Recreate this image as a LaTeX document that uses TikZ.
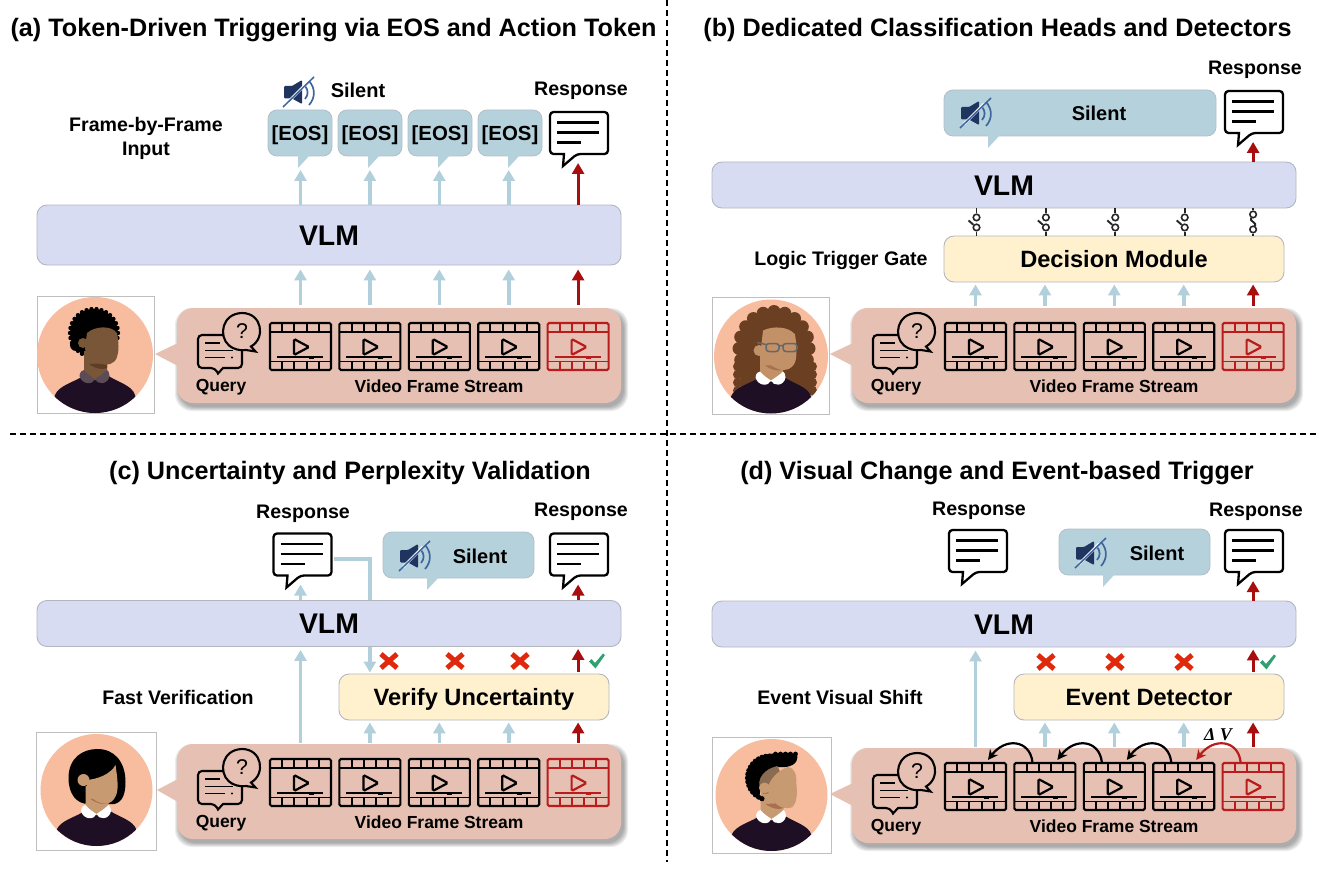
\documentclass[tikz,border=0pt]{standalone}
\usepackage{fontspec}
\setmainfont{Liberation Sans}
\newfontfamily\deltafont{Liberation Serif}
\usetikzlibrary{arrows.meta,calc}
\newdimen\pxu \pxu=0.75pt

\definecolor{vlmfill}{HTML}{D7DCF3}
\definecolor{gatefill}{HTML}{FFF1CE}
\definecolor{streamfill}{HTML}{E6C0B2}
\definecolor{tokenfill}{HTML}{B5D2DC}
\definecolor{flowblue}{HTML}{B2D0DB}
\definecolor{flowred}{HTML}{A80E0E}
\definecolor{filmred}{HTML}{B81C1C}
\definecolor{edgegray}{HTML}{B4B6BE}
\definecolor{avatarbg}{HTML}{F8BC9F}
\definecolor{bodydark}{HTML}{1E0F24}
\definecolor{crossred}{HTML}{E0280C}
\definecolor{checkgreen}{HTML}{2FA070}
\definecolor{speakerdark}{HTML}{1F3560}
\definecolor{speakerblue}{HTML}{3E659E}
\definecolor{skinbrown}{HTML}{7A5638}
\definecolor{skinbrownshade}{HTML}{5E3D25}
\definecolor{collargray}{HTML}{5C4C58}
\definecolor{hairbrown}{HTML}{6B3F22}
\definecolor{skintan}{HTML}{C29168}
\definecolor{skintanshade}{HTML}{A8704C}
\definecolor{skinlight}{HTML}{C89A72}
\definecolor{hairshaved}{HTML}{8A6C52}

\tikzset{
  panelbox/.style={draw=edgegray,line width=0.9\pxu,rounded corners=10\pxu,inner sep=0pt,align=center},
  vlmbox/.style={panelbox,fill=vlmfill,text height=15.3pt,text depth=0pt,font=\fontsize{21.3}{24}\selectfont\bfseries},
  gatebox/.style={panelbox,fill=gatefill,text height=12.7pt,text depth=0pt,font=\fontsize{17.7}{20}\selectfont\bfseries},
  tokenbox/.style={draw=edgegray!70!tokenfill,line width=0.8\pxu,fill=tokenfill,rounded corners=9\pxu,inner sep=0pt,text height=11pt,text depth=0pt,font=\fontsize{15.3}{18}\selectfont\bfseries},
  streambox/.style={fill=streamfill,rounded corners=16\pxu,inner sep=0pt,minimum width=444\pxu,minimum height=95\pxu},
  filmbox/.style={line width=2.1\pxu,rounded corners=1.5\pxu,inner sep=0pt,minimum width=61\pxu,minimum height=47\pxu},
  paneltitle/.style={inner sep=0pt,font=\fontsize{18.9}{22}\selectfont\bfseries},
  sidelabel/.style={inner sep=0pt,align=center,font=\fontsize{14.7}{18.2}\selectfont\bfseries},
  silentlabel/.style={inner sep=0pt,font=\fontsize{15}{18}\selectfont\bfseries},
  streamlabel/.style={inner sep=0pt,font=\fontsize{13.1}{16}\selectfont\bfseries},
  blueflow/.style={draw=flowblue,line width=3.6\pxu,-{Triangle[length=8.25pt,width=9pt]},shorten >=1\pxu},
  redflow/.style={draw=flowred,line width=3\pxu,-{Triangle[length=8.25pt,width=9pt]},shorten >=1\pxu},
  hopline/.style={line width=2.2\pxu,-{Stealth[length=7.5pt,width=7.5pt]}},
  contact/.style={circle,draw=black!85,fill=white,line width=1.6\pxu,minimum size=6.5\pxu,inner sep=0pt},
  switchline/.style={draw=black!85,line width=1.9\pxu},
  divider/.style={draw=black,line width=1.3\pxu,dash pattern=on 4.5pt off 3pt},
}

% Film-strip symbol centred on a named node
\newcommand{\filmframe}[4]{%
  \node[filmbox,draw=#4] (#1) at (#2,#3) {};
  \begin{scope}[shift={(#1.center)},line width=1.9\pxu,#4]
    \draw (-30.5,-14.5) -- (30.5,-14.5) (-30.5,15) -- (30.5,15);
    \foreach \tx in {-18.3,-6.1,6.1,18.3}{\draw (\tx,-23.5) -- (\tx,-14.5) (\tx,15) -- (\tx,23.5);}
    \draw[line width=2.2\pxu,rounded corners=1.5\pxu] (-6.5,-7.5) -- (8.5,0.5) -- (-6.5,8.5) -- cycle;
    \draw (-23.5,10.5) -- (22.5,10.5);
    \fill (8,9) rectangle (13,12);
  \end{scope}}

% Question-and-chat symbol, in the coordinates of the first panel
\newcommand{\queryicon}{%
  \draw[line width=2.1\pxu,rounded corners=4\pxu] (198,345) -- (198,368) -- (215,368) [sharp corners] -- (218,373.5) -- (223,368) [rounded corners=4\pxu] -- (242,368) -- (242,335) -- (198,335) -- cycle;
  \draw[line width=1.9\pxu] (205,343) -- (220,343) (205,350.5) -- (233,350.5) (205,357.5) -- (225,357.5);
  \fill (232,357.5) circle [radius=1.2];
  \filldraw[fill=streamfill,line width=2.1\pxu] (229,345.5) .. controls (218,336) and (222,313.5) .. (242,313) .. controls (262,313) and (266,338) .. (251,346.5) -- (255.5,351.5) -- (246,350) .. controls (240,351) and (233,349) .. (229,345.5) -- cycle;
}

% Query and video-frame band with its speech tail and soft shadow
\newcommand{\streamrow}[4]{%
  \begin{scope}[shift={(#2,#3)}]
    \foreach \s in {0,1,2,3,4}{\fill[black,opacity=0.075,rounded corners=17\pxu] (179-\s,312-\s) rectangle (624+\s,407+\s);}
    \fill[streamfill] (#4,354) -- (178,343) -- (178,366) -- cycle;
    \node[streambox] (#1-stream) at (399,355.5) {};
    \foreach \i/\cx in {1/300.5,2/369.9,3/439.3,4/508.7}{\filmframe{#1-f\i}{\cx}{346.5}{black}}
    \filmframe{#1-f5}{578.1}{346.5}{filmred}
    \queryicon
    \node[inner sep=0pt,font=\fontsize{16}{18}\selectfont] (#1-qmark) at (242,331) {?};
    \node[streamlabel] (#1-qlabel) at (221,387.5) {Query};
    \node[streamlabel] (#1-vlabel) at (439,386.5) {Video Frame Stream};
  \end{scope}}

% Rounded speech bubble holding a status token
\newcommand{\tokenbubble}[7]{%
  \node[tokenbox,minimum width={(#4-#2)*\pxu},minimum height={(#5-#3)*\pxu}] (#1) at ({(#2+#4)/2},{(#3+#5)/2}) {#7};
  \fill[tokenfill] (#6,#5-1) -- (#6,#5+12) -- (#6+12,#5-1) -- cycle;
  \coordinate (#1-tip) at (#6,#5+13);}

% Muted loudspeaker symbol
\newcommand{\mutespeaker}[2]{%
  \begin{scope}[shift={(#1,#2)}]
    \fill[speakerdark,rounded corners=1\pxu] (-15,-6) -- (-7,-6) -- (3,-12) -- (3,12) -- (-7,6.5) -- (-15,6.5) -- cycle;
    \draw[speakerblue,line width=1.7\pxu] (6,-6) .. controls (9.5,-2) and (9.5,3) .. (6,7) (10,-11) .. controls (16.5,-4) and (16.5,6) .. (10,13);
    \draw[white,line width=2.6\pxu] (-12,11) -- (8,-9);
    \draw[speakerblue,line width=1.5\pxu] (-16,15) -- (15,-15);
  \end{scope}}

% Response bubble around a named node
\newcommand{\responseicon}[3]{%
  \node[minimum width=58\pxu,minimum height=42\pxu,inner sep=0pt] (#1) at (#2,#3) {};
  \begin{scope}[shift={(#1.center)}]
    \draw[fill=white,line width=2.3\pxu,rounded corners=3.5\pxu] (0,-21) -- (29,-21) -- (29,21) -- (-2,21) [sharp corners] -- (-16,33) -- (-15,21) [rounded corners=3.5\pxu] -- (-29,21) -- (-29,-21) -- cycle;
    \draw[line width=2.1\pxu] (-22,-10.5) -- (20,-10.5) (-22,-0.5) -- (20,-0.5) (-22,9.5) -- (2,9.5);
  \end{scope}
  \coordinate (#1-tip) at (#2,#3+29);}

% Rejected and accepted frame markers
\newcommand{\rejectmark}[2]{\draw[crossred,line width=5\pxu] (#1-8,#2-7) -- (#1+8,#2+7) (#1-8,#2+7) -- (#1+8,#2-7);}
\newcommand{\acceptmark}[2]{\fill[checkgreen] (#1-8,#2+0.5) -- (#1-5.5,#2-2) -- (#1-2,#2+2) -- (#1+6,#2-7.5) -- (#1+8,#2-6) -- (#1-1.5,#2+7.5) -- cycle;}

% Curved hop between neighbouring frames
\newcommand{\framehop}[3]{\draw[hopline,#3] ($(#1.north)+(-12.5,0)$) .. controls ($(#1.north)+(-15,-22)$) and ($(#2.north)+(30,-25)$) .. ($(#2.north)+(12.5,-2)$);}

% Shared person figure: shoulders, neck and collar
\newcommand{\personbody}[3]{%
  \fill[bodydark] (-44,62) -- (-40,40) .. controls (-36,30) and (-20,27) .. (-10,20) -- (12,20) .. controls (22,27) and (37,30) .. (40,40) -- (44,62) -- cycle;
  \fill[#1] (-11,-4) -- (-11,20) .. controls (-5,27) and (6,27) .. (12,20) -- (12,-4) -- cycle;
  \fill[#3] (-15.5,21) .. controls (-15,17) and (-13,15) .. (-11,15) .. controls (-8,19) and (-3,22) .. (0,24) .. controls (-2,30) and (-13,30) .. (-15.5,21) -- cycle;
  \fill[#3] (14.5,21) .. controls (14,17) and (13,15) .. (12,15) .. controls (8,19) and (3,22) .. (0,24) .. controls (2,30) and (13,30) .. (14.5,21) -- cycle;
  \fill[#2] (-6,9) .. controls (1,14) and (7,15) .. (12,13) -- (12,8) -- cycle;
}
% Frame and disc behind a person figure
\newcommand{\avatardisc}[8]{%
  \node[draw=black!25,line width=0.9\pxu,fill=white,inner sep=0pt,minimum width={(#4-#2)*\pxu},minimum height={(#5-#3)*\pxu}] (#1) at ({(#2+#4)/2},{(#3+#5)/2}) {};
  \fill[avatarbg] (#6,#7) circle [radius=#8];}

\begin{document}
\begin{tikzpicture}[x=0.75pt,y=-0.75pt]
\useasboundingbox (0,0) rectangle (1327,870);
\fill[white] (0,0) rectangle (1327,870);

% Dividers between the four panels
\coordinate (divtop) at (667,0);
\coordinate (divbottom) at (667,862);
\coordinate (divleft) at (10,434);
\coordinate (divright) at (1318,434);
\draw[divider] (divtop) -- (divbottom);
\draw[divider] (divleft) -- (divright);

% ---------- Panel (a) ----------
\node[paneltitle] (a-title) at (333.5,30) {(a) Token-Driven Triggering via EOS and Action Token};
\avatardisc{a-avatar}{37}{296}{154}{413}{95}{355}{58}
\begin{scope}[shift={(95,355)}]
  \clip (0,0) circle [radius=58];
  \fill[black] (-1,-22) circle [radius=24];
  \foreach \a in {0,12,...,348}{\fill[black] ($(-1,-22)+(\a:24)$) circle [radius=2.2];}
  \fill[black] (-19,-10) circle [radius=6];
  \personbody{skinbrown}{skinbrownshade}{collargray}
  \fill[skinbrown] (-12,-12) circle [radius=5];
  \fill[skinbrown] (-8,-22) .. controls (0,-29) and (16,-30) .. (22,-22) .. controls (24,-12) and (24,-4) .. (22,2) .. controls (20,9) and (12,11) .. (6,9) .. controls (-2,8) and (-10,3) .. (-10,-8) -- cycle;
\end{scope}
\streamrow{a}{0}{0}{155}
\node[vlmbox,minimum width=584\pxu,minimum height=60\pxu] (a-vlm) at (329,235) {VLM};
\node[sidelabel] (a-input) at (146,138.5) {Frame-by-Frame\\Input};
\foreach \i/\cx in {1/268,2/338,3/408,4/478}{\tokenbubble{a-eos\i}{\cx}{110}{\cx+64}{156}{\cx+30}{[EOS]}}
\mutespeaker{299}{92}
\node[silentlabel] (a-silent) at (358,90) {Silent};
\node[sidelabel] (a-resplabel) at (581,91) {Response};
\responseicon{a-resp}{579}{133}
\foreach \i in {1,2,3,4}{%
  \draw[blueflow] ($(a-f\i.north |- a-stream.north)+(0,-3)$) -- ($(a-f\i.north |- a-vlm.south)+(0,3)$);
  \draw[blueflow] (a-f\i.north |- a-vlm.north) -- (a-f\i.north |- a-eos\i-tip);}
\draw[redflow] ($(a-f5.north |- a-stream.north)+(0,-3)$) -- ($(a-f5.north |- a-vlm.south)+(0,3)$);
\draw[redflow] (a-f5.north |- a-vlm.north) -- (a-f5.north |- a-resp-tip);

% ---------- Panel (b) ----------
\node[paneltitle] (b-title) at (997.5,30) {(b) Dedicated Classification Heads and Detectors};
\avatardisc{b-avatar}{712}{297}{829}{414}{771}{356.5}{57}
\begin{scope}[shift={(771,356.5)}]
  \clip (0,0) circle [radius=57];
  \fill[hairbrown] (3,-8) ellipse [x radius=35,y radius=37];
  \foreach \a in {0,18,...,342}{\fill[hairbrown] ($(3,-8)+(\a:35 and 37)$) circle [radius=6.5];}
  \fill[hairbrown] (-30,10) rectangle (40,34);
  \foreach \yy in {10,18,26,34}{\fill[hairbrown] (-33,\yy) circle [radius=5]; \fill[hairbrown] (41,\yy) circle [radius=5];}
  \personbody{skintan}{skintanshade}{white}
  \fill[skintan] (-12,-6) circle [radius=5.5];
  \fill[skintan] (-8,-26) .. controls (2,-31) and (18,-30) .. (24,-22) .. controls (26,-10) and (26,0) .. (24,6) .. controls (20,14) and (12,15) .. (6,12) .. controls (-3,8) and (-10,3) .. (-10,-8) -- cycle;
  \draw[black!60,line width=1.5\pxu,rounded corners=3\pxu] (-5,-13) rectangle (8,-5) (12,-13) rectangle (26,-5);
  \draw[black!60,line width=1.5\pxu] (8,-11) -- (12,-11) (-5,-12) -- (-14,-14);
\end{scope}
\streamrow{b}{675}{0}{155}
\node[vlmbox,minimum width=584\pxu,minimum height=46\pxu] (b-vlm) at (1004,185) {VLM};
\node[gatebox,minimum width=340\pxu,minimum height=46\pxu] (b-gate) at (1114,259) {Decision Module};
\node[sidelabel] (b-gatelabel) at (841,260) {Logic Trigger Gate};
\tokenbubble{b-silentbox}{944}{90}{1216}{136}{988}{}
\mutespeaker{976}{113}
\node[silentlabel] (b-silent) at (1099,113) {Silent};
\node[sidelabel] (b-resplabel) at (1255,70) {Response};
\responseicon{b-resp}{1254}{112}
\foreach \i in {1,2,3,4}{%
  \draw[blueflow] ($(b-f\i.north |- b-stream.north)+(0,-2)$) -- ($(b-f\i.north |- b-gate.south)+(0,1)$);
  \node[contact] (b-sw\i t) at ($(b-f\i.north |- b-vlm.south)+(1,9)$) {};
  \node[contact] (b-sw\i b) at ($(b-f\i.north |- b-vlm.south)+(1,19)$) {};
  \coordinate (b-sw\i free) at ($(b-sw\i b)+(-8,-7)$);
  \draw[switchline] (b-sw\i t |- b-vlm.south) -- (b-sw\i t);
  \draw[switchline] (b-sw\i b) -- (b-sw\i b |- b-gate.north);
  \draw[switchline] (b-sw\i b) -- (b-sw\i free);}
\node[contact] (b-sw5t) at ($(b-f5.north |- b-vlm.south)+(0,6)$) {};
\node[contact] (b-sw5b) at ($(b-f5.north |- b-vlm.south)+(0,21)$) {};
\draw[switchline] (b-sw5t |- b-vlm.south) -- (b-sw5t);
\draw[switchline] (b-sw5b) -- (b-sw5b |- b-gate.north);
\draw[switchline] (b-sw5t) .. controls ($(b-sw5t)+(-4,7)$) and ($(b-sw5b)+(4,-7)$) .. (b-sw5b);
\draw[redflow] ($(b-f5.north |- b-stream.north)+(0,-2)$) -- ($(b-f5.north |- b-gate.south)+(0,1)$);
\draw[redflow] (b-f5.north |- b-vlm.north) -- (b-f5.north |- b-resp-tip);

% ---------- Panel (c) ----------
\node[paneltitle] (c-title) at (350,473) {(c) Uncertainty and Perplexity Validation};
\avatardisc{c-avatar}{36}{732}{156}{850}{96.5}{790}{56}
\begin{scope}[shift={(96.5,790)}]
  \clip (0,0) circle [radius=56];
  \fill[black] (-28,-12) .. controls (-28,-32) and (-14,-41) .. (1,-41) .. controls (18,-41) and (29,-28) .. (29,-8) .. controls (29,4) and (26,12) .. (18,14) -- (-8,14) .. controls (-20,14) and (-28,4) .. (-28,-12) -- cycle;
  \personbody{skinlight}{skintanshade}{white}
  \fill[skinlight] (-13,-10) circle [radius=6];
  \fill[skinlight] (-10,-10) .. controls (2,-11) and (14,-16) .. (19,-25) .. controls (21,-12) and (22,-2) .. (20,4) .. controls (17,13) and (10,15) .. (5,13) .. controls (-4,11) and (-10,4) .. (-10,-10) -- cycle;
\end{scope}
\streamrow{c}{0}{436}{157}
\node[gatebox,minimum width=270\pxu,minimum height=46\pxu] (c-gate) at (474,697) {Verify Uncertainty};
\responseicon{c-respl}{302.5}{554.5}
\coordinate (c-bend) at ($(c-respl.east)+(2,4.5)$);
\draw[blueflow] (c-bend) -| (c-f2.north |- c-gate.north);
\node[vlmbox,minimum width=584\pxu,minimum height=46\pxu] (c-vlm) at (329,623.5) {VLM};
\node[sidelabel] (c-side) at (178,697) {Fast Verification};
\tokenbubble{c-silentbox}{383}{532}{534}{578}{427}{}
\mutespeaker{415}{556}
\node[silentlabel] (c-silent) at (480,556) {Silent};
\node[sidelabel] (c-resplabell) at (303,514) {Response};
\node[sidelabel] (c-resplabelr) at (581,512) {Response};
\responseicon{c-respr}{579}{554.5}
\draw[blueflow] (c-f1.north |- c-vlm.north) -- (c-f1.north |- c-respl-tip);
\draw[blueflow] ($(c-f1.north |- c-stream.north)+(0,-1)$) -- ($(c-f1.north |- c-vlm.south)+(0,2)$);
\foreach \i in {2,3,4}{\draw[blueflow] ($(c-f\i.north |- c-stream.north)+(0,-1)$) -- ($(c-f\i.north |- c-gate.south)+(0,1)$);}
\draw[redflow] ($(c-f5.north |- c-stream.north)+(0,-1)$) -- ($(c-f5.north |- c-gate.south)+(0,1)$);
\draw[redflow] ($(c-f5.north |- c-gate.north)+(0,-2)$) -- ($(c-f5.north |- c-vlm.south)+(0,1)$);
\draw[redflow] (c-f5.north |- c-vlm.north) -- (c-f5.north |- c-respr-tip);
\rejectmark{389}{661}\rejectmark{455}{661}\rejectmark{520}{661}
\acceptmark{597}{661}

% ---------- Panel (d) ----------
\node[paneltitle] (d-title) at (997,473) {(d) Visual Change and Event-based Trigger};
\avatardisc{d-avatar}{712}{737}{831}{853}{771.5}{795}{56}
\begin{scope}[shift={(771.5,795)}]
  \clip (0,0) circle [radius=56];
  \personbody{skinlight}{skintanshade}{white}
  \fill[black] (-12,5) .. controls (-30,-8) and (-28,-38) .. (-2,-41) .. controls (12,-43) and (24,-43) .. (26,-38) .. controls (26,-32) and (20,-27) .. (8,-28) .. controls (-8,-26) and (-12,-10) .. (-12,5) -- cycle;
  \foreach \a in {110,120,...,280}{\fill[black] ($(-2,-17)+(\a:22)$) circle [radius=2.6];}
  \foreach \xx in {4,9,14,19,24}{\fill[black] (\xx,-41) circle [radius=2.4];}
  \fill[hairshaved] (-8,-1) .. controls (-17,-10) and (-12,-25) .. (6,-29) -- (10,-20) -- (-1,-2) -- cycle;
  \fill[skinlight] (-7,-7) circle [radius=5.5];
  \fill[skinlight] (-2,-12) .. controls (2,-20) and (10,-26) .. (16,-28) .. controls (24,-27) and (25,-20) .. (25,-10) .. controls (26,0) and (25,8) .. (21,12) .. controls (14,15) and (6,12) .. (2,6) .. controls (-3,2) and (-5,-4) .. (-2,-12) -- cycle;
\end{scope}
\streamrow{d}{675}{440}{155}
\node[vlmbox,minimum width=584\pxu,minimum height=46\pxu] (d-vlm) at (1004,624) {VLM};
\node[gatebox,minimum width=270\pxu,minimum height=46\pxu] (d-gate) at (1149,697) {Event Detector};
\node[sidelabel] (d-side) at (840,697) {Event Visual Shift};
\tokenbubble{d-silentbox}{1059}{529}{1210}{575}{1103}{}
\mutespeaker{1091}{553}
\node[silentlabel] (d-silent) at (1157,553) {Silent};
\node[sidelabel] (d-resplabell) at (979,511) {Response};
\node[sidelabel] (d-resplabelr) at (1256,512) {Response};
\responseicon{d-respl}{978}{551}
\responseicon{d-respr}{1254}{551}
\draw[blueflow] ($(d-f1.north |- d-stream.north)+(0,-1)$) -- ($(d-f1.north |- d-vlm.south)+(0,2)$);
\foreach \i in {2,3,4}{\draw[blueflow] ($(d-f\i.north |- d-stream.north)+(0,-1)$) -- ($(d-f\i.north |- d-gate.south)+(0,1)$);}
\draw[redflow] ($(d-f5.north |- d-stream.north)+(0,-1)$) -- ($(d-f5.north |- d-gate.south)+(0,1)$);
\draw[redflow] ($(d-f5.north |- d-gate.north)+(0,-2)$) -- ($(d-f5.north |- d-vlm.south)+(0,1)$);
\draw[redflow] (d-f5.north |- d-vlm.north) -- (d-f5.north |- d-respr-tip);
\rejectmark{1046}{662}\rejectmark{1115}{662}\rejectmark{1184}{662}
\acceptmark{1268}{662}
\framehop{d-f2}{d-f1}{black}
\framehop{d-f3}{d-f2}{black}
\framehop{d-f4}{d-f3}{black}
\framehop{d-f5}{d-f4}{filmred}
\node[inner sep=0pt,font={\deltafont\fontsize{13.5}{16}\selectfont\bfseries\itshape}] (d-delta) at (1218,735) {Δ V};
\end{tikzpicture}
\end{document}
